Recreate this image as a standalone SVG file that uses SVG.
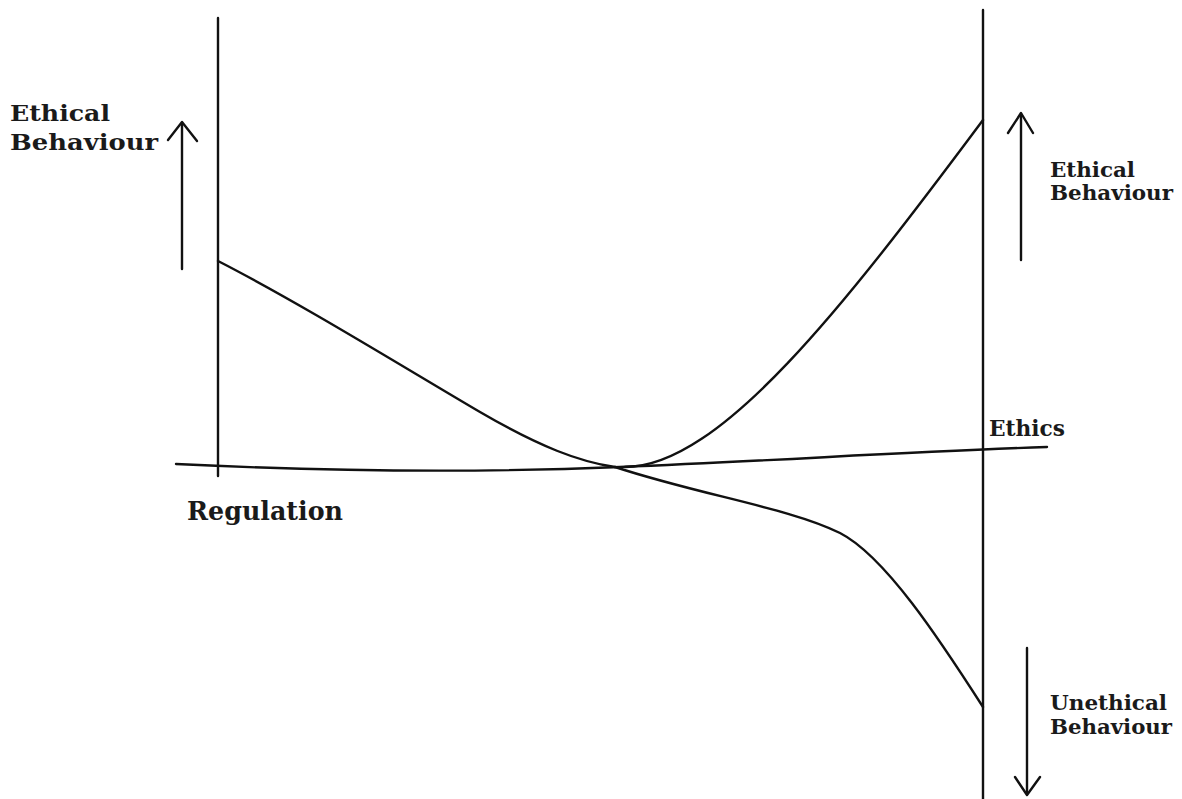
<svg xmlns="http://www.w3.org/2000/svg" width="1182" height="799" viewBox="0 0 1182 799">
<style>
.ln{fill:none;stroke:#111;stroke-width:2.4;stroke-linecap:round;stroke-linejoin:round}
.t{font-family:"DejaVu Serif","Liberation Serif",serif;fill:#1a1a1a;font-weight:bold}
</style>
<rect width="1182" height="799" fill="#fff"/>
<g id="axes">
<line class="ln" x1="218" y1="18" x2="218" y2="476"/>
<line class="ln" x1="983" y1="10" x2="983" y2="799"/>
<path class="ln" d="M176,464 C300,470 450,474 620,467 S900,452 1047,447"/>
</g>
<g id="connectors">
<path id="curve-left" class="ln" d="M218,261 C300,303 400,365 480,412 C540,447 580,462 615,467"/>
<path id="curve-lower" class="ln" d="M615,467 C700,495 790,508 840,533 C885,556 940,640 983,707"/>
<path id="curve-upper" class="ln" d="M625,467 C720,467 845,305 983,120"/>
<g id="arrow-left-up"><line class="ln" x1="182" y1="123" x2="182" y2="269"/><polyline class="ln" points="168,140 182,122 197,141"/></g>
<g id="arrow-right-up"><line class="ln" x1="1021" y1="114" x2="1021" y2="260"/><polyline class="ln" points="1008,133 1021,113 1033,133"/></g>
<g id="arrow-right-down"><line class="ln" x1="1027" y1="648" x2="1027" y2="794"/><polyline class="ln" points="1015,777 1027,795 1040,777"/></g>
</g>
<g id="label-left-ethical">
<text class="t" x="10" y="121" font-size="23" textLength="100" lengthAdjust="spacingAndGlyphs">Ethical</text>
<text class="t" x="10" y="150" font-size="23" textLength="148" lengthAdjust="spacingAndGlyphs">Behaviour</text>
</g>
<g id="label-right-ethical">
<text class="t" x="1050" y="177" font-size="21" textLength="85" lengthAdjust="spacingAndGlyphs">Ethical</text>
<text class="t" x="1050" y="200" font-size="21" textLength="123" lengthAdjust="spacingAndGlyphs">Behaviour</text>
</g>
<g id="label-ethics">
<text class="t" x="989" y="436" font-size="22" textLength="76" lengthAdjust="spacingAndGlyphs">Ethics</text>
</g>
<g id="label-unethical">
<text class="t" x="1050" y="710" font-size="21" textLength="117" lengthAdjust="spacingAndGlyphs">Unethical</text>
<text class="t" x="1050" y="734" font-size="21" textLength="122" lengthAdjust="spacingAndGlyphs">Behaviour</text>
</g>
<g id="label-regulation">
<text class="t" x="187" y="520" font-size="26" textLength="156" lengthAdjust="spacingAndGlyphs">Regulation</text>
</g>
</svg>
